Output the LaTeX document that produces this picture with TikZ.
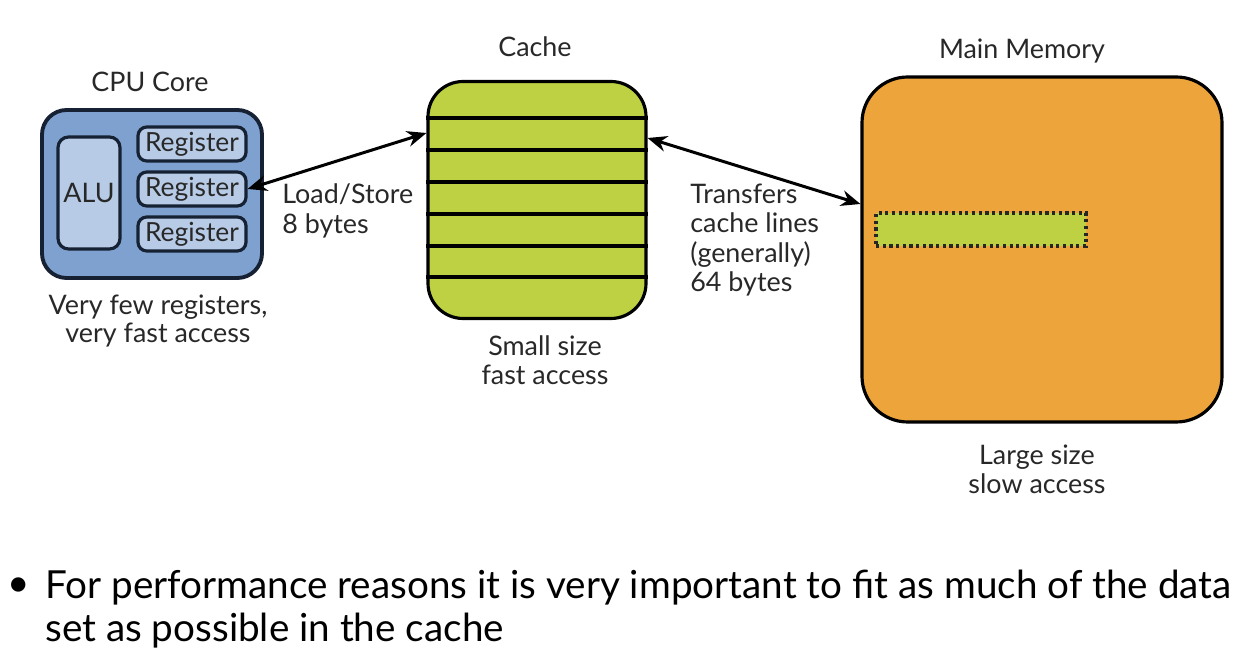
\documentclass[tikz,border=0pt]{standalone}
\usepackage{fontspec}
\setmainfont{Lato}
\usetikzlibrary{arrows.meta}
\definecolor{cpufill}{RGB}{126,161,208}
\definecolor{regfill}{RGB}{183,203,230}
\definecolor{cpuline}{RGB}{22,34,52}
\definecolor{cachefill}{RGB}{189,209,66}
\definecolor{memfill}{RGB}{237,164,59}
\definecolor{txt}{RGB}{40,40,40}
\begin{document}
\begin{tikzpicture}[x=0.02cm,y=-0.02cm,
  lbl/.style={font=\fontsize{15.3}{16.4}\selectfont, text=txt, align=center},
  regbox/.style={draw=cpuline, line width=1.8pt, fill=regfill, rounded corners=5pt, minimum width=108*0.02cm, minimum height=34*0.02cm, inner sep=0pt, font=\fontsize{15}{17}\selectfont, text=txt},
  dbl/.style={{Stealth[length=11pt,width=9pt]}-{Stealth[length=11pt,width=9pt]}, line width=1.7pt}]
\useasboundingbox (0,0) rectangle (1252,668);
% CPU core
\node[draw=cpuline, line width=2.2pt, fill=cpufill, rounded corners=14pt, minimum width=220*0.02cm, minimum height=168*0.02cm, inner sep=0pt] (cpu) at (152,194) {};
\node[draw=cpuline, line width=1.8pt, fill=regfill, rounded corners=6pt, minimum width=62*0.02cm, minimum height=112*0.02cm, inner sep=0pt, font=\fontsize{15.3}{17}\selectfont, text=txt] (alu) at (89,193) {ALU};
\node[regbox] (r1) at (192,144) {Register};
\node[regbox] (r2) at (192,189) {Register};
\node[regbox] (r3) at (192,234) {Register};
\node[lbl] (cpul) at (150,82) {CPU Core};
\node[lbl] (cpud) at (158,321) {Very few registers,\\very fast access};
% Cache
\node[draw=black, line width=1.8pt, fill=cachefill, rounded corners=20pt, minimum width=218*0.02cm, minimum height=237*0.02cm, inner sep=0pt] (cache) at (537,200) {};
\foreach \yy in {118,150,182,214,246,277}
  \draw[line width=2pt] (cache.west |- 0,\yy) -- (cache.east |- 0,\yy);
\node[lbl] (cachel) at (535,47) {Cache};
\node[lbl] (cached) at (545,360) {Small size\\fast access};
% Main memory
\node[draw=black, line width=1.8pt, fill=memfill, rounded corners=26pt, minimum width=360*0.02cm, minimum height=345*0.02cm, inner sep=0pt] (mem) at (1042,249.5) {};
\node[draw=black!85, dotted, line width=1.8pt, fill=cachefill, minimum width=210*0.02cm, minimum height=33*0.02cm, inner sep=0pt] (line) at (981,229.5) {};
\node[lbl] (meml) at (1022,51) {Main Memory};
\node[lbl] (memd) at (1037,469) {Large size\\slow access};
% Arrows
\coordinate (ca) at (cache.west |- 0,133);
\coordinate (cb) at (cache.east |- 0,138);
\coordinate (ma) at (mem.west |- 0,204);
\draw[dbl] (r2.east) -- (ca);
\draw[dbl] (cb) -- (ma);
\node[lbl, align=left, anchor=west, inner sep=0pt, font=\fontsize{15.3}{17}\selectfont] (ls) at (282,211) {Load/Store\\8 bytes};
\node[lbl, align=left, anchor=west, inner sep=0pt, font=\fontsize{15.3}{16.6}\selectfont] (tr) at (690,240) {Transfers\\cache lines\\(generally)\\64 bytes};
% Bullet
\node[anchor=west, align=left, font=\fontsize{22}{24.6}\selectfont, text=black, inner sep=0pt] (bul) at (45,609) {For performance reasons it is very important to fit as much of the data\\set as possible in the cache};
\node[font=\fontsize{22}{24}\selectfont, inner sep=0pt] (dot) at (19,587) {•};
\end{tikzpicture}
\end{document}
